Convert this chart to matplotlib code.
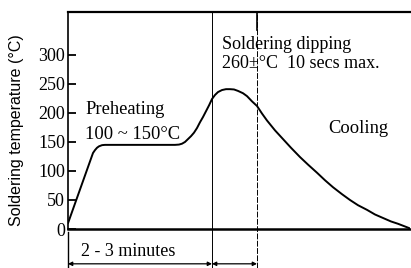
import matplotlib
matplotlib.use('Agg')
import matplotlib.pyplot as plt

# Reflow profile (time in arbitrary units, temperature in degC)
time = [0, 25, 27, 29, 31, 34, 37, 107, 111, 114, 117, 120, 123, 126, 129, 132,
        135, 138, 141, 144, 147, 150, 154, 158, 162, 166, 170, 175, 179, 184,
        189, 194, 199, 207, 215, 223, 232, 240, 249, 257, 265, 274, 282, 290,
        299, 307, 315, 323, 330, 336, 342]
temp = [10, 131, 136, 140, 142.5, 144.5, 145, 145, 145.5, 147, 150, 155, 160,
        166, 174, 184, 193, 203, 213, 224, 231, 236, 239.5, 241, 241, 240.5,
        238, 234, 229, 220, 212, 199, 187, 170, 155, 140, 124, 111, 97, 84, 72,
        60, 50, 41, 33, 25, 19, 13, 9, 5, 1]

yticks = [0, 50, 100, 150, 200, 250, 300]
dip_start = 144   # start of soldering dip
dip_end = 189     # end of soldering dip
t_max = 342
y_max = 374
y_bottom = -67    # lowest point of the annotation below the axis

serif = 'Liberation Serif'

fig = plt.figure(figsize=(4.11, 2.68), dpi=100)
ax = fig.add_axes([68 / 411, 39 / 268, 342 / 411, 217 / 268])

# the profile curve
ax.plot(time, temp, color='black', lw=1.4, solid_capstyle='round',
        solid_joinstyle='round')

ax.set_xlim(0, t_max)
ax.set_ylim(0, y_max)
ax.set_xticks([])
ax.set_yticks(yticks)
ax.set_yticklabels([str(v) for v in yticks], family=serif, fontsize=13)
ax.tick_params(axis='y', direction='in', length=6, width=1.3, pad=2)
ax.spines['right'].set_visible(False)
ax.spines['left'].set_linewidth(1.2)
ax.spines['top'].set_linewidth(1.6)
ax.spines['bottom'].set_linewidth(1.8)

ax.set_ylabel('Soldering temperature (\u00b0C)', family='Liberation Sans',
              fontsize=11.5)
ax.yaxis.set_label_coords(-0.129, 0.456)

# dip window markers running past the axis
ax.plot([dip_start, dip_start], [y_bottom, y_max], color='black', lw=0.7,
        clip_on=False)
ax.plot([dip_end, dip_end], [y_bottom, y_max], color='black', lw=0.7,
        ls=(0, (6, 1.5)), clip_on=False)
ax.plot([dip_end, dip_end], [343, y_max], color='black', lw=1.2, clip_on=False)

# annotation below the axis
ax.plot([0, 0], [-6, y_bottom], color='black', lw=1.0, clip_on=False)
ax.text(13, -38, '2 - 3 minutes', family=serif, fontsize=13, va='center',
        ha='left', clip_on=False)
arrow = dict(arrowstyle='<|-|>', color='black', lw=0.9, mutation_scale=6,
             shrinkA=0, shrinkB=0)
ax.annotate('', xy=(0, -60), xytext=(dip_start, -60), arrowprops=arrow,
            annotation_clip=False)
ax.annotate('', xy=(dip_start, -60), xytext=(dip_end, -60), arrowprops=arrow,
            annotation_clip=False)

# labels inside the chart
ax.text(17, 206, 'Preheating', family=serif, fontsize=13.3, va='center')
ax.text(17, 163, '100 ~ 150\u00b0C', family=serif, fontsize=13.3, va='center')
ax.text(154, 318, 'Soldering dipping', family=serif, fontsize=13, va='center')
ax.text(154, 285, '260\u00b1\u00b0C  10 secs max.', family=serif, fontsize=13,
        va='center')
ax.text(260, 173, 'Cooling', family=serif, fontsize=13.3, va='center')

fig.savefig('out.png', dpi=100)
